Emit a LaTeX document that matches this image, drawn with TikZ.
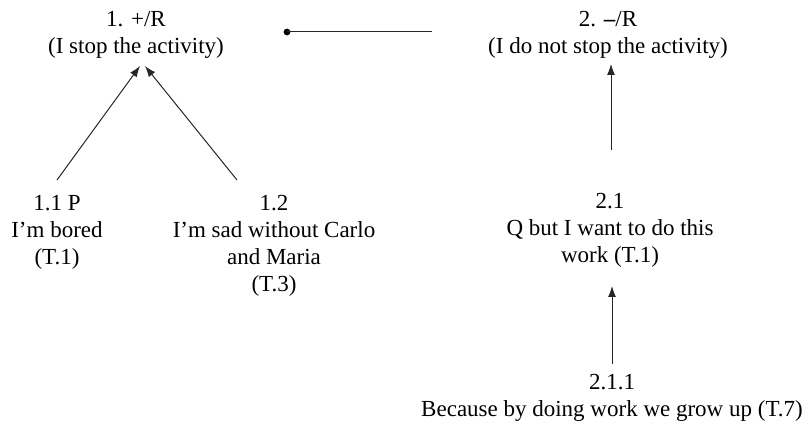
\documentclass[tikz,border=0pt]{standalone}
\usepackage{fontspec}
\setmainfont{Liberation Serif}
\usetikzlibrary{arrows.meta}
\begin{document}
\begin{tikzpicture}[x=1pt,y=-1pt,
  lbl/.style={align=center,inner sep=0pt,anchor=north,font=\fontsize{23}{27}\selectfont},
  conn/.style={draw=black!85,line width=1pt},
  arr/.style={conn,-{Latex[length=11pt,width=8pt]}}]
\useasboundingbox (0,0) rectangle (809,427);
\node[lbl] (n1) at (136,11) {1. +/R\\(I stop the activity)};
\node[lbl] (n2) at (608,11) {2. \textbf{–}/R\\(I do not stop the activity)};
\node[lbl] (n11) at (57,195) {1.1 P\\I’m bored\\(T.1)};
\node[lbl] (n12) at (274,195) {1.2\\I’m sad without Carlo\\and Maria\\(T.3)};
\node[lbl] (n21) at (610,193) {2.1\\Q but I want to do this\\work (T.1)};
\node[lbl] (n211) at (612,374) {2.1.1\\Because by doing work we grow up (T.7)};
\coordinate (d1) at (287,32);
\coordinate (d2) at (432,32);
\coordinate (a11) at (57,180);
\coordinate (a12) at (237,180);
\coordinate (t11) at (140,66);
\coordinate (t12) at (145,66);
\coordinate (a21) at (611,150);
\coordinate (t21) at (611,64);
\coordinate (a211) at (612,364);
\coordinate (t211) at (612,286);
\fill (d1) circle (3.4);
\draw[conn] (d1) -- (d2);
\draw[arr] (a11) -- (t11);
\draw[arr] (a12) -- (t12);
\draw[arr] (a21) -- (t21);
\draw[arr] (a211) -- (t211);
\end{tikzpicture}
\end{document}
